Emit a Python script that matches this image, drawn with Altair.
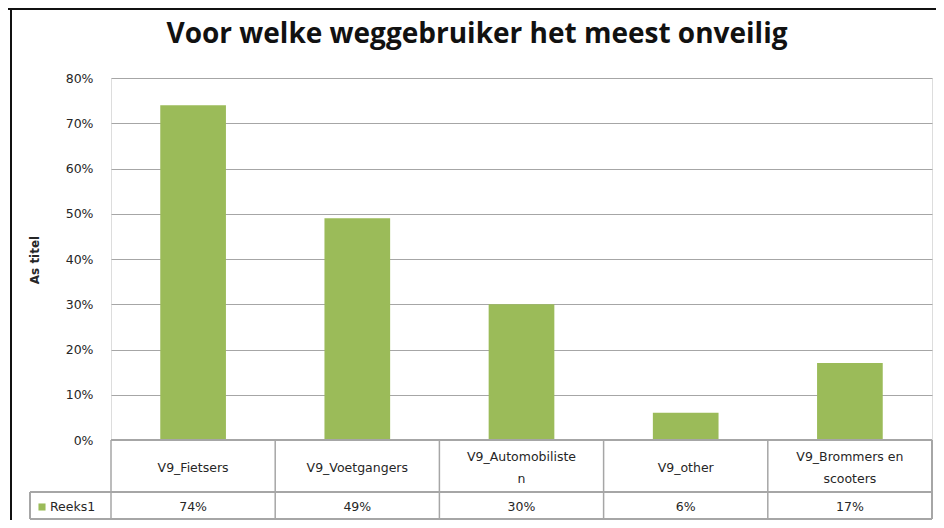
import altair as alt
import pandas as pd

# ---- data ----
categories = ["V9_Fietsers", "V9_Voetgangers", "V9_Automobilisten", "V9_other", "V9_Brommers en scooters"]
cat_labels = ["V9_Fietsers", "V9_Voetgangers", "V9_Automobiliste\nn", "V9_other", "V9_Brommers en\nscooters"]
values = [0.74, 0.49, 0.30, 0.06, 0.17]
series_name = "Reeks1"
y_ticks = [0, 0.1, 0.2, 0.3, 0.4, 0.5, 0.6, 0.7, 0.8]
title_text = "Voor welke weggebruiker het meest onveilig"
y_title = "As titel"

df = pd.DataFrame({"cat": categories, "label": cat_labels, "value": values})

W, H = 821, 362
GREEN = "#9BBB59"
GRID = "#a6a6a6"
TXT = "#262626"
FONT = "DejaVu Sans"
FS = 12.5

band = alt.Scale(paddingInner=0, paddingOuter=0)
xs = alt.X("cat:N", sort=categories, scale=band, axis=None)
ys = alt.Y("value:Q", scale=alt.Scale(domain=[0, 0.8]),
           axis=alt.Axis(values=y_ticks, format=".0%", title=None, grid=True,
                         gridColor=GRID, gridWidth=1, domain=False, ticks=False,
                         labelPadding=18, labelFontSize=FS, labelFont=FONT,
                         labelColor=TXT))

bars = alt.Chart(df).mark_bar(color=GREEN, width=alt.RelativeBandSize(0.4)).encode(x=xs, y=ys)

base = alt.Chart(df)
TB = H + 79  # table bottom

vlines = base.mark_rule(color=GRID, strokeWidth=1.5).encode(
    x=alt.X("cat:N", sort=categories, bandPosition=0, scale=band, axis=None),
    y=alt.value(H), y2=alt.value(TB))
right_line = base.mark_rule(color=GRID, strokeWidth=1.5).encode(
    x=alt.value(W), y=alt.value(H), y2=alt.value(TB))
left_cell_line = base.mark_rule(color=GRID, strokeWidth=1.5).encode(
    x=alt.value(-81), y=alt.value(H + 52), y2=alt.value(TB))
row_sep = base.mark_rule(color=GRID, strokeWidth=1.5).encode(
    x=alt.value(-81), x2=alt.value(W), y=alt.value(H + 52))
bottom_line = base.mark_rule(color=GRID, strokeWidth=1.5).encode(
    x=alt.value(-81), x2=alt.value(W), y=alt.value(TB))
top_line = base.mark_rule(color=GRID, strokeWidth=1.5).encode(
    x=alt.value(0), x2=alt.value(W), y=alt.value(H))

xt = alt.X("cat:N", sort=categories, bandPosition=0.5, scale=band, axis=None)
cat_text_1 = base.transform_calculate(n="length(split(datum.label, '\\n'))").transform_filter(
    "datum.n == 1").mark_text(font=FONT, fontSize=FS, color=TXT, baseline="middle").encode(
    x=xt, y=alt.value(H + 28), text="label:N")
cat_text_2 = base.transform_calculate(n="length(split(datum.label, '\\n'))").transform_filter(
    "datum.n > 1").mark_text(font=FONT, fontSize=FS, color=TXT, lineBreak="\n",
                             lineHeight=22, baseline="middle").encode(
    x=xt, y=alt.value(H + 17), text="label:N")
val_text = base.mark_text(font=FONT, fontSize=FS, color=TXT, baseline="middle").encode(
    x=xt, y=alt.value(H + 67), text=alt.Text("value:Q", format=".0%"))

legend_df = pd.DataFrame({"name": [series_name]})
legend_sq = alt.Chart(legend_df).mark_square(color=GREEN, size=50, opacity=1).encode(
    x=alt.value(-69), y=alt.value(H + 67))
legend_txt = alt.Chart(legend_df).mark_text(font=FONT, fontSize=FS, color=TXT,
                                             align="left", baseline="middle").encode(
    x=alt.value(-61), y=alt.value(H + 67), text="name:N")

title_df = pd.DataFrame({"t": [title_text]})
title = alt.Chart(title_df).mark_text(font="Open Sans", fontWeight="bold", fontSize=28,
                                       color="#111", baseline="middle").encode(
    x=alt.value(366), y=alt.value(-43), text="t:N")

ytitle_df = pd.DataFrame({"t": [y_title]})
ytitle = alt.Chart(ytitle_df).mark_text(font=FONT, fontSize=12, fontWeight="bold", color=TXT,
                                         angle=270, baseline="middle").encode(
    x=alt.value(-76), y=alt.value(182), text="t:N")

frame_top = base.mark_rule(color="#111", strokeWidth=2).encode(
    x=alt.value(-103), x2=alt.value(W + 10), y=alt.value(-69))
frame_left = base.mark_rule(color="#111", strokeWidth=2).encode(
    x=alt.value(-100), y=alt.value(-70), y2=alt.value(H + 100))

chart = alt.layer(
    bars, top_line, vlines, right_line, left_cell_line, row_sep, bottom_line,
    cat_text_1, cat_text_2, val_text, legend_sq, legend_txt, title, ytitle, frame_top, frame_left
).properties(
    width=W, height=H,
    autosize=alt.AutoSizeParams(type="none"),
    padding={"left": 103, "top": 70, "right": 4, "bottom": 80},
).configure_view(stroke=GRID, strokeWidth=1.5).configure(background="white")

chart.save("out.html", embed_options={"renderer": "svg", "actions": False})
